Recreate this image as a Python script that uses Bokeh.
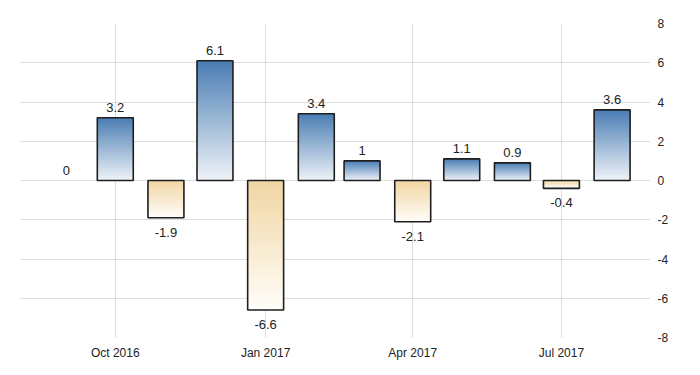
from datetime import datetime
from bokeh.plotting import figure
from bokeh.models import FixedTicker, DatetimeTickFormatter, Range1d, ColumnDataSource
from bokeh.core.properties import value
from bokeh.embed import file_html
from bokeh.resources import INLINE

# ---- data ----
months = ["2016-09", "2016-10", "2016-11", "2016-12", "2017-01", "2017-02",
          "2017-03", "2017-04", "2017-05", "2017-06", "2017-07", "2017-08"]
values = [0, 3.2, -1.9, 6.1, -6.6, 3.4, 1, -2.1, 1.1, 0.9, -0.4, 3.6]
labels = ["0", "3.2", "-1.9", "6.1", "-6.6", "3.4", "1", "-2.1", "1.1", "0.9", "-0.4", "3.6"]
x_ticks = ["2016-10", "2017-01", "2017-04", "2017-07"]
y_ticks = [-8, -6, -4, -2, 0, 2, 4, 6, 8]

FONT = "Liberation Sans"
DAY = 86400000.0


def to_dt(s):
    return datetime.strptime(s + "-01", "%Y-%m-%d")


def ms(dt):
    return (dt - datetime(1970, 1, 1)).total_seconds() * 1000.0


xs = [to_dt(m) for m in months]
x_ms = [ms(d) for d in xs]
half = 11 * DAY

p = figure(width=700, height=375, x_axis_type="datetime", y_axis_location="right",
           output_backend="svg", toolbar_location=None,
           min_border_left=20, min_border_right=50, min_border_top=23, min_border_bottom=38)
p.x_range = Range1d(ms(datetime(2016, 8, 4)), ms(datetime(2017, 8, 24, 12)))
p.y_range = Range1d(-8, 8)
p.outline_line_color = None
p.background_fill_color = "white"
p.border_fill_color = "white"


def lerp(c1, c2, t):
    a = [int(c1[i:i + 2], 16) for i in (1, 3, 5)]
    b = [int(c2[i:i + 2], 16) for i in (1, 3, 5)]
    return "#%02x%02x%02x" % tuple(round(a[k] + (b[k] - a[k]) * t) for k in range(3))


POS_TOP, POS_BOT = "#4a7db3", "#eff3f8"
NEG_TOP, NEG_BOT = "#f1d6a3", "#fffdf9"
N = 40
l, r, b, t, c = [], [], [], [], []
for xm, v in zip(x_ms, values):
    if v == 0:
        continue
    for k in range(N):
        # each slice runs from its start to the far end of the bar; later slices overlay
        y0 = v * k / N
        frac = (k + 0.5) / N
        col = lerp(POS_BOT, POS_TOP, frac) if v > 0 else lerp(NEG_TOP, NEG_BOT, frac)
        l.append(xm - half)
        r.append(xm + half)
        b.append(min(y0, v))
        t.append(max(y0, v))
        c.append(col)
p.quad(left=l, right=r, bottom=b, top=t, fill_color=c, line_color=None)

# outlines
nz = [(xm, v) for xm, v in zip(x_ms, values) if v != 0]
p.quad(left=[a - half for a, _ in nz], right=[a + half for a, _ in nz],
       bottom=[min(0, v) for _, v in nz], top=[max(0, v) for _, v in nz],
       fill_alpha=0, line_color="#1e1e1e", line_width=1.6)

# value labels
pos = ColumnDataSource(dict(x=[xm for xm, v in zip(x_ms, values) if v >= 0],
                            y=[v for v in values if v >= 0],
                            t=[lb for lb, v in zip(labels, values) if v >= 0]))
neg = ColumnDataSource(dict(x=[xm for xm, v in zip(x_ms, values) if v < 0],
                            y=[v for v in values if v < 0],
                            t=[lb for lb, v in zip(labels, values) if v < 0]))
p.text(x="x", y="y", text="t", source=pos, text_align="center", text_baseline="bottom",
       y_offset=-6, text_font=value(FONT), text_font_size="13px", text_color="#222222")
p.text(x="x", y="y", text="t", source=neg, text_align="center", text_baseline="top",
       y_offset=10, text_font=value(FONT), text_font_size="13px", text_color="#222222")

# axes
xa = p.xaxis[0]
xa.ticker = FixedTicker(ticks=[ms(to_dt(m)) for m in x_ticks])
fmt = "%b %Y"
xa.formatter = DatetimeTickFormatter(days=fmt, months=fmt, years=fmt, hours=fmt,
                                     minutes=fmt, seconds=fmt, milliseconds=fmt,
                                     microseconds=fmt, minsec=fmt, hourmin=fmt)
ya = p.yaxis[0]
ya.ticker = FixedTicker(ticks=y_ticks)
ya.major_label_overrides = {v: str(v) for v in y_ticks}
for ax in (xa, ya):
    ax.axis_line_color = None
    ax.major_tick_line_color = None
    ax.minor_tick_line_color = None
    ax.major_tick_out = 0
    ax.major_tick_in = 0
    ax.major_label_text_font = FONT
    ax.major_label_text_font_size = "12px"
    ax.major_label_text_color = "#222222"
xa.major_label_standoff = 8
ya.major_label_standoff = 7

for g in (p.xgrid[0], p.ygrid[0]):
    g.grid_line_color = "#bdbdbd"
    g.grid_line_dash = "1 1"
    g.grid_line_width = 1

open("out.html", "w").write(file_html(p, INLINE))
